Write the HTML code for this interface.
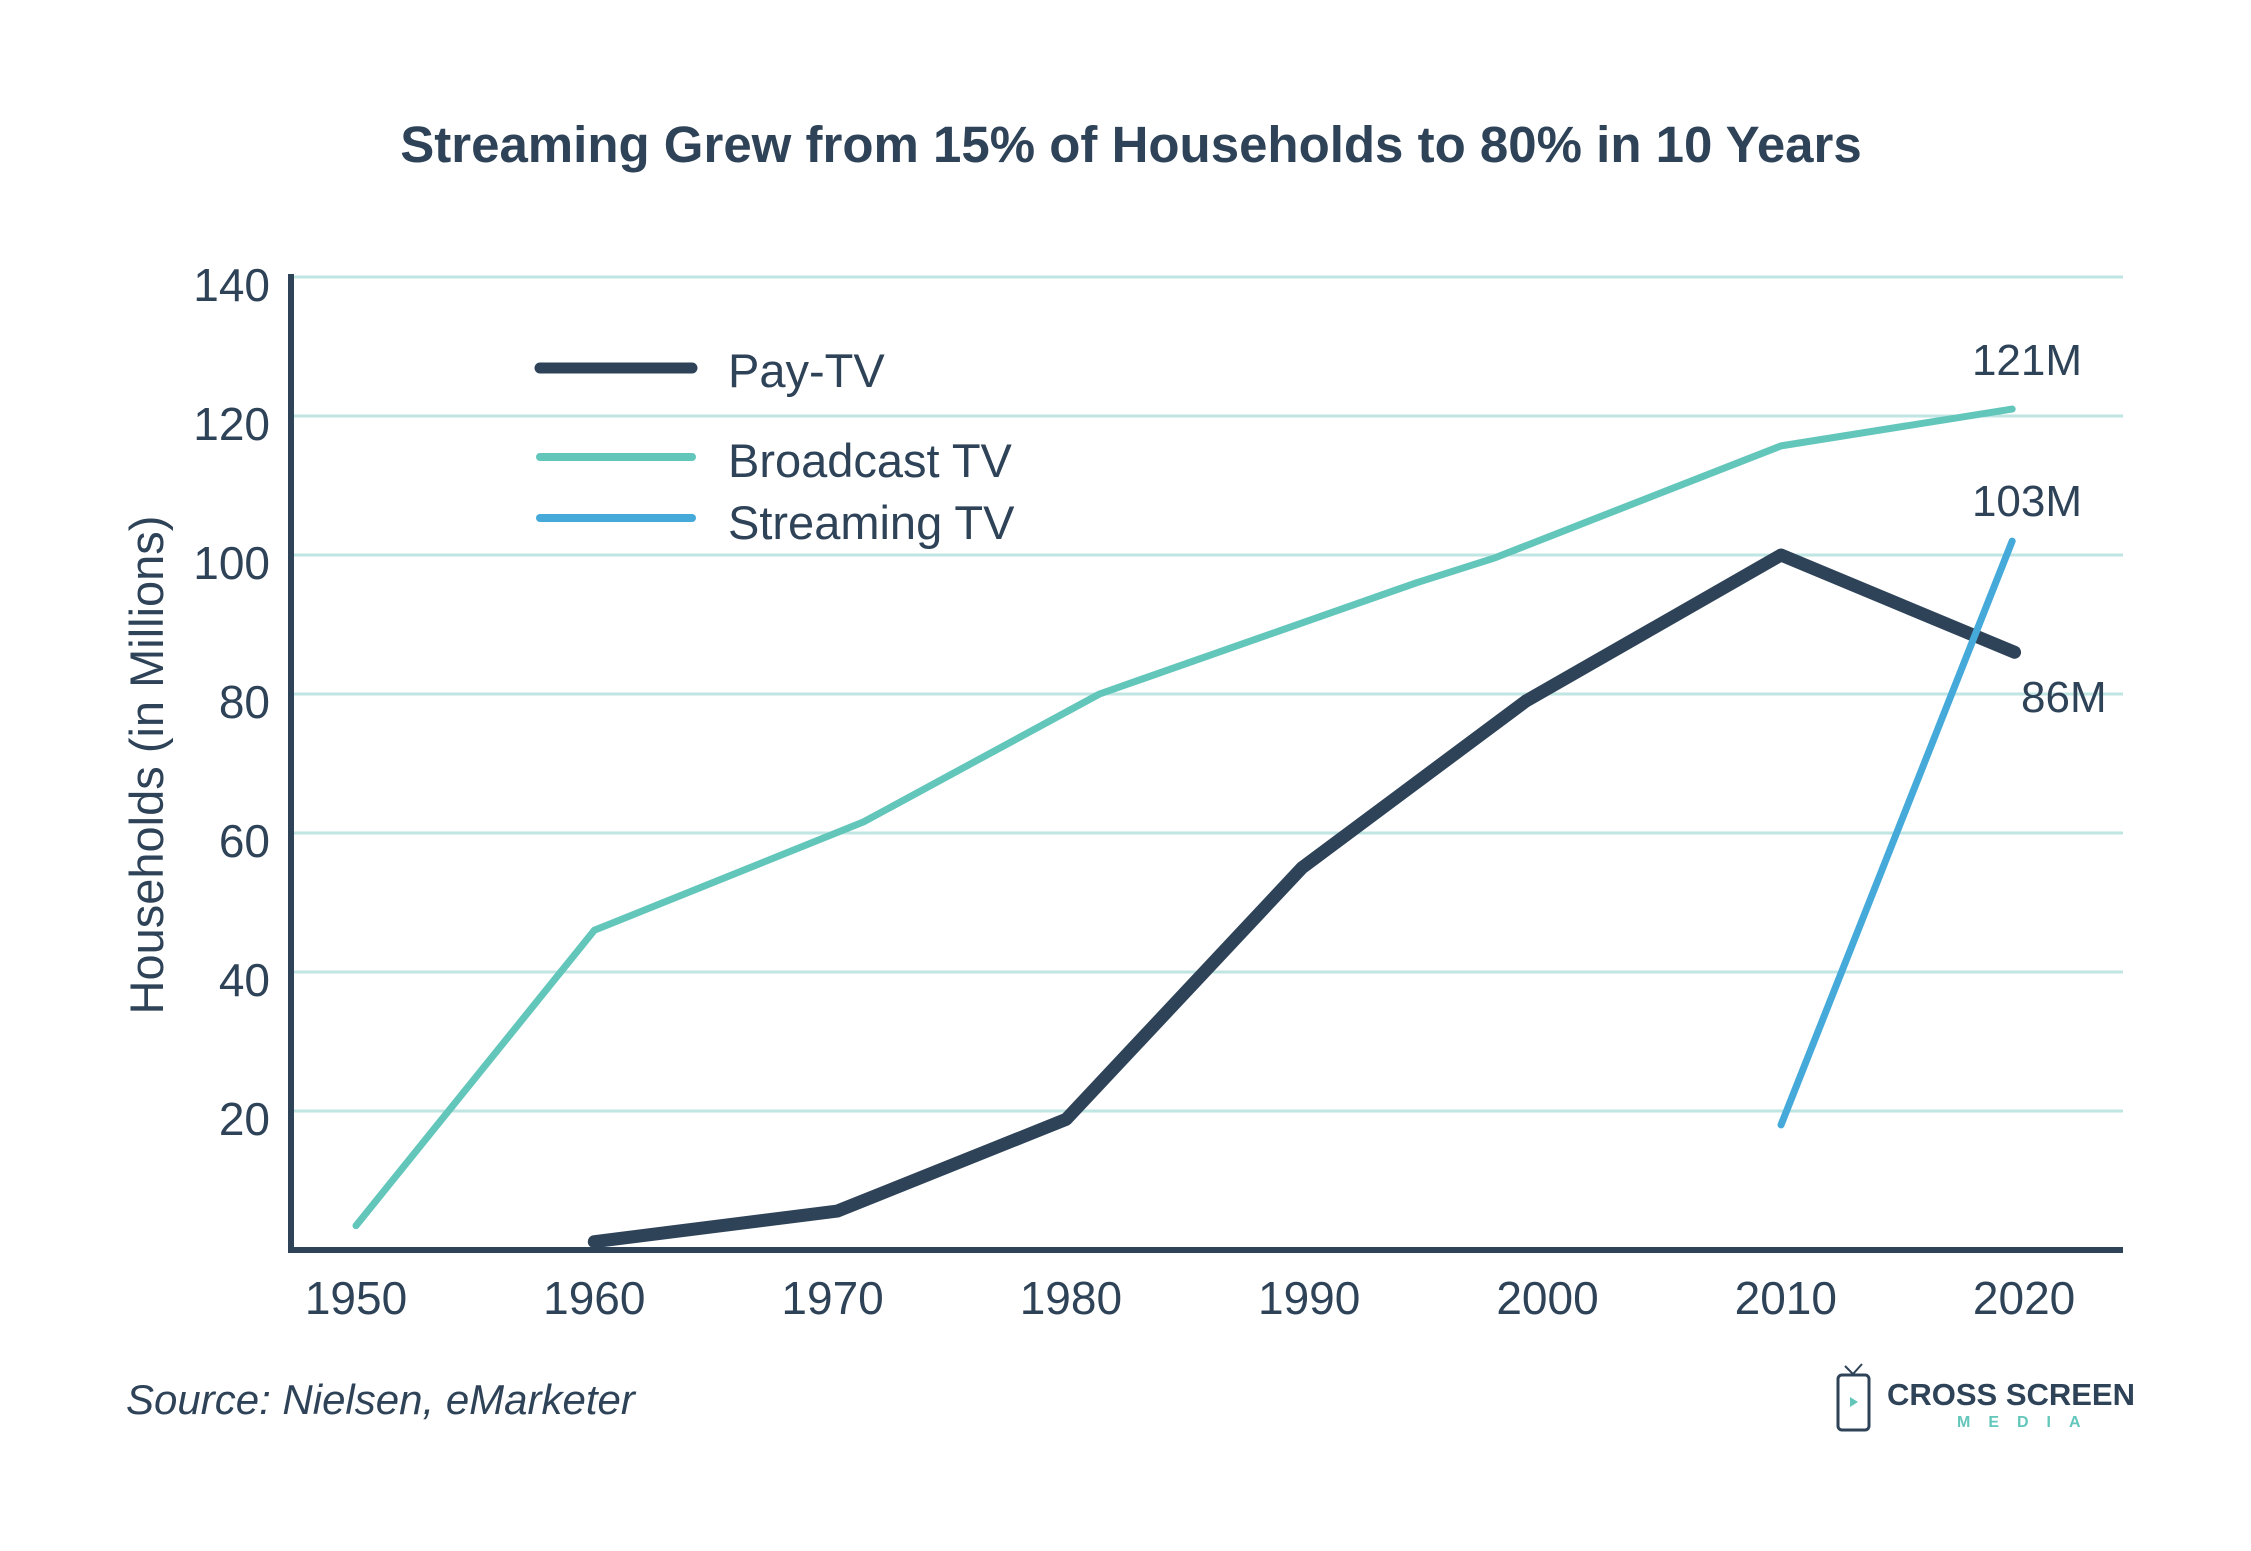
<!DOCTYPE html>
<html><head><meta charset="utf-8"><style>
html,body{margin:0;padding:0;background:#fff;}
svg{display:block;font-family:"Liberation Sans",sans-serif;}
</style></head><body>
<svg id="chart" width="2251" height="1551" viewBox="0 0 2251 1551">
<text x="1131" y="162" text-anchor="middle" font-size="51" font-weight="bold" fill="#2f4358">Streaming Grew from 15% of Households to 80% in 10 Years</text>
<g id="grid"></g>
<g id="yticks"></g>
<g id="xticks"></g>
<g id="series"></g>
<line x1="291" y1="274" x2="291" y2="1252" stroke="#2f4358" stroke-width="6"/>
<line x1="288" y1="1250" x2="2123" y2="1250" stroke="#2f4358" stroke-width="6"/>
<text transform="translate(163,765) rotate(-90)" text-anchor="middle" font-size="47" fill="#2f4358">Households (in Millions)</text>
<g>
<line x1="540" y1="368" x2="692" y2="368" stroke="#2f4358" stroke-width="11" stroke-linecap="round"/>
<text x="728" y="387" font-size="47" fill="#2f4358">Pay-TV</text>
<line x1="540" y1="457" x2="692" y2="457" stroke="#62c6bb" stroke-width="8" stroke-linecap="round"/>
<text x="728" y="477" font-size="47" fill="#2f4358">Broadcast TV</text>
<line x1="540" y1="518" x2="692" y2="518" stroke="#45aad9" stroke-width="8" stroke-linecap="round"/>
<text x="728" y="539" font-size="47" fill="#2f4358">Streaming TV</text>
</g>
<text x="2027" y="375" text-anchor="middle" font-size="44" fill="#2f4358">121M</text>
<text x="2027" y="516" text-anchor="middle" font-size="44" fill="#2f4358">103M</text>
<text x="2021" y="712" font-size="44" fill="#2f4358">86M</text>
<text x="126" y="1414" font-size="42" font-style="italic" fill="#2f4358">Source: Nielsen, eMarketer</text>
<g>
<rect x="1838" y="1375" width="31" height="55" rx="4" fill="none" stroke="#2f4358" stroke-width="3"/>
<path d="M1845 1366 L1853 1374 L1862 1364" fill="none" stroke="#2f4358" stroke-width="2"/>
<path d="M1850 1397 L1858 1402 L1850 1407 Z" fill="#62c6bb"/>
<text x="1887" y="1405" font-size="31" font-weight="bold" fill="#2f4358" textLength="248">CROSS SCREEN</text>
<text x="1957" y="1427" font-size="16" font-weight="bold" fill="#62c6bb" letter-spacing="18">MEDIA</text>
</g>
</svg>
<script>
const yTicks = [20, 40, 60, 80, 100, 120, 140];
const xTicks = [1950, 1960, 1970, 1980, 1990, 2000, 2010, 2020];
const payYears = [1960, 1970.2, 1979.8, 1989.7, 1999.1, 2009.8, 2019.6];
const payValues = [1.2, 5.6, 18.8, 55, 79, 100, 86];
const broadYears = [1950, 1960, 1971.3, 1981.2, 1994.5, 1997.8, 2009.8, 2019.5];
const broadValues = [3.5, 46, 61.6, 80, 96, 99.6, 115.7, 121];
const streamYears = [2009.8, 2019.5];
const streamValues = [18, 102];

const NS = "http://www.w3.org/2000/svg";
function xs(yr){ return 356 + (yr - 1950) * 23.83; }
function ys(v){ return 1250 - v * 6.95; }
function mk(tag, attrs, parent){ const e=document.createElementNS(NS,tag); for(const k in attrs) e.setAttribute(k,attrs[k]); parent.appendChild(e); return e; }

const grid=document.getElementById('grid'), yt=document.getElementById('yticks'), xt=document.getElementById('xticks'), ser=document.getElementById('series');
yTicks.forEach(v=>{
  const l=mk('line',{x1:294,x2:2123,y1:ys(v),y2:ys(v),stroke:'#bfe6e2','stroke-width':3},grid);
  
  
  const t=mk('text',{x:270,y:ys(v)+24,'text-anchor':'end','font-size':46,fill:'#2f4358'},yt);
  t.textContent=v;
  
  
});
xTicks.forEach(v=>{
  const t=mk('text',{x:xs(v),y:1314,'text-anchor':'middle','font-size':46,fill:'#2f4358'},xt);
  t.textContent=v;
  
  
});
function line(years, vals, color, w, name){
  const pts=years.map((y,i)=>xs(y)+','+ys(vals[i])).join(' ');
  const p=mk('polyline',{points:pts,fill:'none',stroke:color,'stroke-width':w,'stroke-linecap':'round','stroke-linejoin':'round'},ser);
  
  
}
line(broadYears, broadValues, '#62c6bb', 7, 'broadcast-tv-line');
line(payYears, payValues, '#2f4358', 13, 'pay-tv-line');
line(streamYears, streamValues, '#45aad9', 7, 'streaming-tv-line');
</script>
</body></html>
